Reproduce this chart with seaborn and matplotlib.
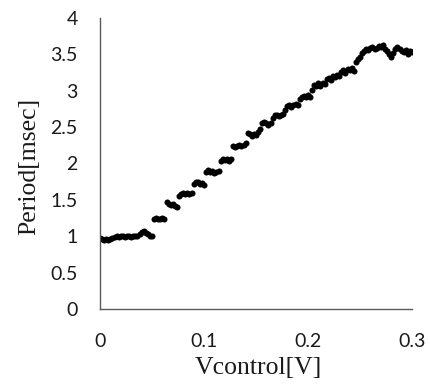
import matplotlib
matplotlib.use("Agg")
import matplotlib.pyplot as plt
import seaborn as sns
import pandas as pd

vcontrol = [
    0.000, 0.002, 0.004, 0.006, 0.008, 0.010, 0.012, 0.014, 0.016, 0.018,
    0.020, 0.022, 0.024, 0.026, 0.028, 0.030, 0.032, 0.034, 0.036, 0.038,
    0.040, 0.042, 0.044, 0.046, 0.048, 0.050, 0.052, 0.054, 0.056, 0.058,
    0.060, 0.062, 0.064, 0.066, 0.068, 0.070, 0.072, 0.074, 0.076, 0.078,
    0.080, 0.082, 0.084, 0.086, 0.088, 0.090, 0.092, 0.094, 0.096, 0.098,
    0.100, 0.102, 0.104, 0.106, 0.108, 0.110, 0.112, 0.114, 0.116, 0.118,
    0.120, 0.122, 0.124, 0.126, 0.128, 0.130, 0.132, 0.134, 0.136, 0.138,
    0.140, 0.142, 0.144, 0.146, 0.148, 0.150, 0.152, 0.154, 0.156, 0.158,
    0.160, 0.162, 0.164, 0.166, 0.168, 0.170, 0.172, 0.174, 0.176, 0.178,
    0.180, 0.182, 0.184, 0.186, 0.188, 0.190, 0.192, 0.194, 0.196, 0.198,
    0.200, 0.202, 0.204, 0.206, 0.208, 0.210, 0.212, 0.214, 0.216, 0.218,
    0.220, 0.222, 0.224, 0.226, 0.228, 0.230, 0.232, 0.234, 0.236, 0.238,
    0.240, 0.242, 0.244, 0.246, 0.248, 0.250, 0.252, 0.254, 0.256, 0.258,
    0.260, 0.262, 0.264, 0.266, 0.268, 0.270, 0.272, 0.274, 0.276, 0.278,
    0.280, 0.282, 0.284, 0.286, 0.288, 0.290, 0.292, 0.294, 0.296, 0.298,
    0.300,
]

period = [
    0.97, 0.96, 0.95, 0.96, 0.95, 0.96, 0.97, 0.99, 1.00, 0.99,
    1.00, 1.00, 0.99, 1.00, 1.00, 0.99, 1.00, 1.00, 1.00, 1.03,
    1.06, 1.07, 1.05, 1.03, 1.01, 1.01, 1.24, 1.25, 1.24, 1.24,
    1.25, 1.24, 1.47, 1.45, 1.43, 1.45, 1.42, 1.40, 1.55, 1.58,
    1.59, 1.58, 1.59, 1.58, 1.59, 1.72, 1.75, 1.74, 1.72, 1.73,
    1.70, 1.88, 1.91, 1.89, 1.90, 1.87, 1.88, 1.90, 2.04, 2.06,
    2.05, 2.06, 2.04, 2.06, 2.24, 2.23, 2.24, 2.25, 2.24, 2.26,
    2.28, 2.42, 2.40, 2.38, 2.41, 2.39, 2.43, 2.47, 2.55, 2.57,
    2.56, 2.53, 2.55, 2.63, 2.66, 2.67, 2.65, 2.67, 2.68, 2.73,
    2.79, 2.81, 2.78, 2.80, 2.82, 2.80, 2.88, 2.92, 2.93, 2.92,
    2.94, 2.91, 3.01, 3.08, 3.06, 3.10, 3.07, 3.11, 3.09, 3.16,
    3.18, 3.15, 3.20, 3.19, 3.22, 3.20, 3.26, 3.28, 3.25, 3.30,
    3.29, 3.31, 3.27, 3.40, 3.44, 3.47, 3.52, 3.55, 3.58, 3.56,
    3.59, 3.60, 3.57, 3.59, 3.62, 3.60, 3.63, 3.58, 3.55, 3.50,
    3.47, 3.52, 3.57, 3.60, 3.58, 3.55, 3.53, 3.56, 3.51, 3.55,
    3.53,
]

x_ticks = [0, 0.1, 0.2, 0.3]
x_tick_labels = ["0", "0.1", "0.2", "0.3"]
y_ticks = [0, 0.5, 1, 1.5, 2, 2.5, 3, 3.5, 4]
y_tick_labels = ["0", "0.5", "1", "1.5", "2", "2.5", "3", "3.5", "4"]

df = pd.DataFrame({"Vcontrol": vcontrol, "Period": period})

sns.set_style("white")
plt.rcParams["font.family"] = ["Lato", "DejaVu Sans"]

fig = plt.figure(figsize=(4.31, 3.87), dpi=100)
ax = fig.add_axes([100 / 431, 1 - 309 / 387, 312 / 431, 291 / 387])

sns.scatterplot(data=df, x="Vcontrol", y="Period", ax=ax, color="black",
                s=19, linewidth=0, legend=False)

ax.set_xlim(0, 0.3)
ax.set_ylim(0, 4)
ax.set_xticks(x_ticks)
ax.set_xticklabels(x_tick_labels)
ax.set_yticks(y_ticks)
ax.set_yticklabels(y_tick_labels)

axis_color = "#5a5a5a"
for side in ["top", "right"]:
    ax.spines[side].set_visible(False)
for side in ["left", "bottom"]:
    ax.spines[side].set_color(axis_color)
    ax.spines[side].set_linewidth(1.0)

ax.tick_params(axis="both", direction="in", length=5.5, width=1.0,
               color=axis_color, labelsize=14, labelcolor="#1a1a1a")
ax.tick_params(axis="x", pad=17)
ax.tick_params(axis="y", pad=16)

ax.set_xlabel("Vcontrol[V]", fontsize=18.5, family=["Liberation Serif"], color="#1a1a1a")
ax.set_ylabel("Period[msec]", fontsize=18.5, family=["Liberation Serif"], color="#1a1a1a")
ax.xaxis.set_label_coords((258 - 100) / 312, (309 - 357) / 291)
ax.yaxis.set_label_coords((40 - 100) / 312, (309 - 166) / 291)

fig.savefig("out.png", dpi=100)
